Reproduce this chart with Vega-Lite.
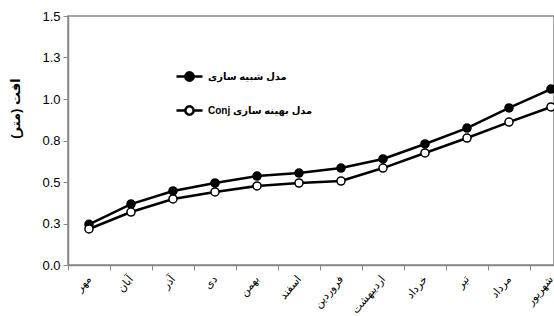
{
  "$schema": "https://vega.github.io/schema/vega-lite/v6.json",
  "autosize": "none",
  "padding": {"left": 68, "top": 16, "right": 0, "bottom": 51},
  "width": 486,
  "height": 249,
  "background": "white",
  "config": {
    "font": "Liberation Sans, DejaVu Sans",
    "view": {"stroke": "#888888", "strokeWidth": 1.5}
  },
  "data": {
    "values": [
      {"month": "مهر", "series": "sim", "value": 0.245},
      {"month": "آبان", "series": "sim", "value": 0.367},
      {"month": "آذر", "series": "sim", "value": 0.446},
      {"month": "دی", "series": "sim", "value": 0.494},
      {"month": "بهمن", "series": "sim", "value": 0.536},
      {"month": "اسفند", "series": "sim", "value": 0.554},
      {"month": "فروردین", "series": "sim", "value": 0.584},
      {"month": "اردیبهشت", "series": "sim", "value": 0.639},
      {"month": "خرداد", "series": "sim", "value": 0.729},
      {"month": "تیر", "series": "sim", "value": 0.825},
      {"month": "مرداد", "series": "sim", "value": 0.946},
      {"month": "شهریور", "series": "sim", "value": 1.06},
      {"month": "مهر", "series": "opt", "value": 0.217},
      {"month": "آبان", "series": "opt", "value": 0.319},
      {"month": "آذر", "series": "opt", "value": 0.398},
      {"month": "دی", "series": "opt", "value": 0.44},
      {"month": "بهمن", "series": "opt", "value": 0.476},
      {"month": "اسفند", "series": "opt", "value": 0.494},
      {"month": "فروردین", "series": "opt", "value": 0.506},
      {"month": "اردیبهشت", "series": "opt", "value": 0.584},
      {"month": "خرداد", "series": "opt", "value": 0.675},
      {"month": "تیر", "series": "opt", "value": 0.765},
      {"month": "مرداد", "series": "opt", "value": 0.861},
      {"month": "شهریور", "series": "opt", "value": 0.952}
    ]
  },
  "encoding": {
    "x": {
      "field": "month",
      "type": "nominal",
      "sort": null,
      "bandPosition": 0.5,
      "scale": {"type": "band", "range": [0, 504], "paddingInner": 0, "paddingOuter": 0},
      "axis": {
        "title": null,
        "labelAngle": -50,
        "labelFontSize": 11,
        "labelColor": "#000000",
        "labelPadding": 7,
        "tickBand": "extent",
        "tickSize": 5,
        "tickColor": "#888888",
        "domainColor": "#888888",
        "domainWidth": 1.5
      }
    },
    "y": {
      "field": "value",
      "type": "quantitative",
      "scale": {"domain": [0, 1.5], "nice": false},
      "axis": {
        "title": "افت (متر)\u200f",
        "titleFontSize": 13,
        "titleFontWeight": "bold",
        "titleX": -46,
        "titleY": 92,
        "values": [0, 0.25, 0.5, 0.75, 1, 1.25, 1.5],
        "labelExpr": "format(datum.value, '.1f')",
        "labelFontSize": 13,
        "labelColor": "#000000",
        "labelPadding": 3,
        "tickSize": 5,
        "tickColor": "#888888",
        "domainColor": "#888888",
        "domainWidth": 1.5,
        "grid": false
      }
    }
  },
  "layer": [
    {
      "mark": {"type": "line", "stroke": "black", "strokeWidth": 2.5},
      "encoding": {"detail": {"field": "series", "type": "nominal"}}
    },
    {
      "mark": {"type": "point", "filled": true, "stroke": "black", "strokeWidth": 1.5, "size": 65, "opacity": 1},
      "encoding": {
        "fill": {
          "field": "series",
          "type": "nominal",
          "scale": {"domain": ["sim", "opt"], "range": ["black", "white"]},
          "legend": {
            "title": null,
            "orient": "none",
            "legendX": 107,
            "legendY": 46,
            "padding": 0,
            "rowPadding": 10,
            "symbolType": "M-1,0L-0.32,0M0.32,0L1,0M-0.32,0A0.32,0.32,0,1,1,0.32,0A0.32,0.32,0,1,1,-0.32,0Z",
            "symbolSize": 676,
            "symbolStrokeColor": "black",
            "symbolStrokeWidth": 2.5,
            "labelFontSize": 10,
            "labelFontWeight": "bold",
            "labelColor": "#000000",
            "labelOffset": 4,
            "labelExpr": "datum.value == 'sim' ? 'مدل شبیه سازی' : 'Conj مدل بهینه سازی'"
          }
        }
      }
    }
  ]
}
